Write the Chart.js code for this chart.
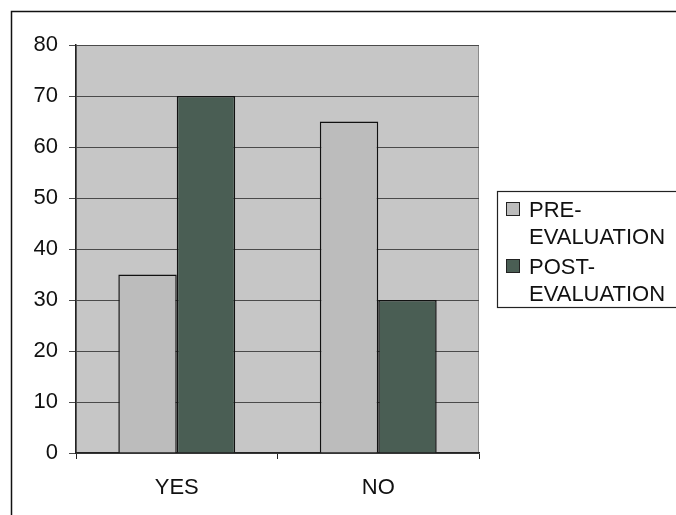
<!DOCTYPE html>
<html>
<head>
<meta charset="utf-8">
<script src="https://cdn.jsdelivr.net/npm/chart.js@4.4.0/dist/chart.umd.min.js"></script>
<style>
    html, body { margin: 0; padding: 0; background: #fff; }
    #wrap { position: relative; width: 676px; height: 515px; }
</style>
</head>
<body>
<div id="wrap"><canvas id="chart" width="676" height="515"></canvas></div>
<script>
// Data
const categories = ["YES", "NO"]
const preValues = [35, 65]
const postValues = [70, 30]
const seriesNames = [["PRE-", "EVALUATION"], ["POST-", "EVALUATION"]]
const seriesColors = ["#bcbcbc", "#4a5e54"]

const FONT = "'Liberation Sans', Arial, sans-serif"

// Grey plot background + outer frame
const backdrop = {
    id: "backdrop",
    beforeDraw(chart) {
        const { ctx, chartArea: a } = chart
        ctx.save()
        ctx.fillStyle = "#c6c6c6"
        ctx.fillRect(a.left, a.top, a.right - a.left, a.bottom - a.top)
        ctx.strokeStyle = "#8a8a8a"
        ctx.lineWidth = 1
        ctx.strokeRect(a.left + 0.5, a.top + 0.5, a.right - a.left - 1, a.bottom - a.top - 1)
        ctx.strokeStyle = "#111"
        ctx.lineWidth = 1.5
        ctx.strokeRect(11.5, 11.5, 700, 600)
        ctx.restore()
    },
}

// Boxed legend on the right, with wrapped names
const sideLegend = {
    id: "sideLegend",
    afterDraw(chart) {
        const { ctx } = chart
        ctx.save()
        ctx.strokeStyle = "#222"
        ctx.lineWidth = 1.2
        ctx.strokeRect(497.5, 191.5, 220, 116)
        ctx.font = "22px " + FONT
        ctx.textBaseline = "alphabetic"
        chart.data.datasets.forEach((ds, i) => {
            const y0 = 202 + i * 57
            ctx.fillStyle = ds.backgroundColor
            ctx.fillRect(506, y0, 14, 14)
            ctx.strokeStyle = "#222"
            ctx.lineWidth = 1
            ctx.strokeRect(506.5, y0 + 0.5, 13, 13)
            ctx.fillStyle = "#111"
            seriesNames[i].forEach((line, j) => {
                ctx.fillText(line, 529, y0 + 15 + j * 27)
            })
        })
        ctx.restore()
    },
}

new Chart(document.getElementById("chart"), {
    type: "bar",
    data: {
        labels: categories,
        datasets: [
            {
                label: seriesNames[0].join(""),
                data: preValues,
                backgroundColor: seriesColors[0],
                borderColor: "#111",
                borderWidth: 1.5,
            },
            {
                label: seriesNames[1].join(""),
                data: postValues,
                backgroundColor: seriesColors[1],
                borderColor: "#111",
                borderWidth: 1.5,
            },
        ],
    },
    options: {
        responsive: false,
        animation: false,
        layout: { padding: { top: 45, right: 197, left: 0, bottom: 0 } },
        datasets: { bar: { categoryPercentage: 0.58, barPercentage: 1.0 } },
        plugins: {
            legend: { display: false },
            tooltip: { enabled: false },
        },
        scales: {
            x: {
                afterFit: (scale) => { scale.height = 62 },
                grid: {
                    offset: true,
                    drawOnChartArea: false,
                    drawTicks: true,
                    tickLength: 6,
                    color: "#222",
                },
                border: { display: true, color: "#222", width: 1.5 },
                ticks: {
                    color: "#111",
                    padding: 16,
                    font: { family: FONT, size: 22 },
                },
            },
            y: {
                min: 0,
                max: 80,
                afterFit: (scale) => { scale.width = 76 },
                grid: {
                    color: "#4a4a4a",
                    lineWidth: 1,
                    tickLength: 7,
                },
                border: { display: true, color: "#222", width: 1.5 },
                ticks: {
                    stepSize: 10,
                    color: "#111",
                    padding: 11,
                    font: { family: FONT, size: 22 },
                },
            },
        },
    },
    plugins: [backdrop, sideLegend],
})
</script>
</body>
</html>
